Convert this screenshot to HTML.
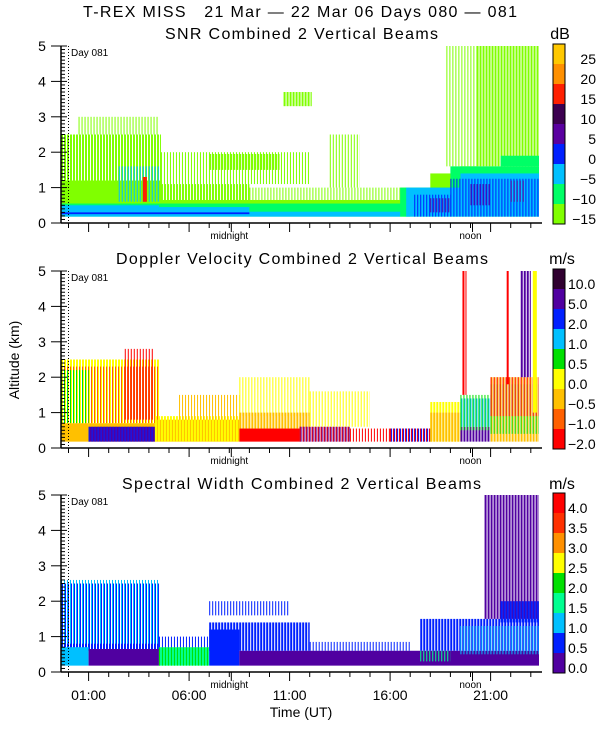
<!DOCTYPE html>
<html><head><meta charset="utf-8">
<style>
html,body{margin:0;padding:0;background:#fff;}
svg{display:block;font-family:"Liberation Sans",sans-serif;}
</style></head>
<body>
<svg id="chart" width="600" height="750" viewBox="0 0 600 750" xmlns="http://www.w3.org/2000/svg">
<text x="83" y="17" font-size="16" textLength="434" lengthAdjust="spacing" xml:space="preserve">T-REX MISS   21 Mar — 22 Mar 06 Days 080 — 081</text>
<text x="165" y="39" font-size="16" textLength="273" lengthAdjust="spacing">SNR Combined 2 Vertical Beams</text>
<text x="560" y="39" font-size="16" text-anchor="middle">dB</text>
<text x="116" y="264" font-size="16" textLength="372" lengthAdjust="spacing">Doppler Velocity Combined 2 Vertical Beams</text>
<text x="562" y="264" font-size="16" text-anchor="middle">m/s</text>
<text x="122" y="489" font-size="16" textLength="359" lengthAdjust="spacing">Spectral Width Combined 2 Vertical Beams</text>
<text x="562" y="489" font-size="16" text-anchor="middle">m/s</text>
<text transform="translate(19,360) rotate(-90)" font-size="14" text-anchor="middle">Altitude (km)</text>
<text x="301" y="717" font-size="14" text-anchor="middle">Time (UT)</text>
<g id="layer"></g>
</svg>
<script>
// ---- data ----
const xTickLabels = ["01:00","06:00","11:00","16:00","21:00"];
const xTickHours = [1,6,11,16,21];
const yTickLabels = ["0","1","2","3","4","5"];
const snrLabels = [-15,-10,-5,0,5,10,15,20,25];
const velLabels = [-2.0,-1.0,-0.5,0.0,0.5,1.0,2.0,5.0,10.0];
const widLabels = [0.0,0.5,1.0,1.5,2.0,2.5,3.0,3.5,4.0];
// segments: [tStartHour, tEndHour, zBottomKm, zTopKm, value, sparse(0 dense,1 2/3,2 1/3)]
const snrSegments = [
 [-0.4,4.6,0.6,1.2,-15,0],[-0.4,4.6,1.2,2.5,-15,1],[0.5,4.5,2.5,3.0,-15,2],
 [4.6,9,0.6,1.1,-15,1],[4.6,12,1.1,2.0,-15,2],[9,16.5,0.6,1.0,-15,2],
 [7,10.5,1.5,1.95,-15,1],[10.7,12.1,3.3,3.7,-15,1],[13,14.5,1.0,2.5,-15,2],
 [16.5,18,0.5,1.0,-15,0],[18,19.5,0.5,1.4,-15,0],[19.5,20.3,0.5,1.6,-15,0],
 [20.3,23.5,1.6,5.0,-15,1],[18.8,20.3,1.6,5.0,-15,2],[-0.4,17,0.45,0.65,-15,0],
 [-0.4,17,0.18,0.55,-10,0],[16.5,19,0.18,1.0,-10,0],[19,23.5,0.18,1.6,-10,0],[21.5,23.5,1.6,1.9,-10,0],
 [-0.4,4.5,0.18,0.5,-5,0],[4.5,9,0.18,0.45,-5,0],[9,16.5,0.18,0.32,-5,0],
 [16.8,19.5,0.18,1.0,-5,0],[19.5,23.5,0.18,1.4,-5,0],[2.5,4.5,0.6,1.6,-5,2],
 [-0.4,9,0.25,0.3,0,0],[17.2,19,0.18,0.8,0,2],[19,23.5,0.18,1.25,0,2],
 [18,19,0.3,0.7,5,2],[20,21,0.5,1.1,5,2],[22,22.7,0.6,1.2,5,2],
 [3.7,3.9,0.6,1.3,15,0]
];
const velSegments = [
 [-0.4,4.5,0.7,2.5,0.0,1],[-0.4,4.5,0.7,2.3,-1.0,2],[-0.4,1,0.7,2.2,0.5,2],[2.8,4.2,0.8,2.8,-2.0,2],
 [-0.4,1,0.18,0.7,-0.5,0],[1,4.3,0.18,0.7,-0.5,0],[1,4.3,0.18,0.6,5.0,0],[1,4.3,0.18,0.6,2.0,2],
 [4.3,8.5,0.18,0.8,-0.5,0],[4.3,8.5,0.18,0.9,0.0,1],[5.5,8.5,0.8,1.5,-0.5,2],
 [8.5,11.5,0.18,0.55,-2.0,0],[8.5,12,0.9,2.0,0.0,2],[8.5,12,0.55,1.0,-0.5,1],
 [11.5,14,0.18,0.6,5.0,1],[11.5,14,0.18,0.6,-2.0,2],[12,15,0.6,1.6,0.0,2],
 [14,16,0.18,0.55,-2.0,2],[16,18,0.18,0.55,2.0,1],[16,18,0.18,0.55,-2.0,2],
 [18,19.5,0.18,1.3,0.0,1],[18,19.5,0.18,1.0,-0.5,1],
 [19.5,21,0.18,0.6,5.0,1],[19.5,21,0.6,1.4,1.0,1],[19.5,21,0.5,1.5,0.5,2],
 [21,23.5,0.18,2.0,-0.5,1],[21,23.5,0.4,1.8,0.5,2],[21,23.5,0.9,2.0,-2.0,2],
 [19.6,19.8,1.5,5.0,-2.0,1],[22.5,23,2.0,5.0,5.0,1],[23.1,23.3,1.0,5.0,0.0,0],[21.8,21.9,1.8,5.0,-2.0,1]
];
const widSegments = [
 [-0.4,4.5,0.6,2.5,0.5,1],[-0.4,4.5,0.8,2.6,1.0,2],[-0.4,1,0.18,0.7,1.0,0],
 [1,4.5,0.18,0.65,0.0,0],[4.5,7,0.18,0.7,1.5,0],[4.5,7,0.18,0.7,2.0,2],[4.5,7,0.7,1.0,0.5,2],[7,8.5,0.18,1.2,0.5,0],
 [8.5,23.5,0.18,0.6,0.0,0],[7,12,0.6,1.4,0.5,1],[7,11,1.6,2.0,0.5,2],[12,17,0.6,0.85,0.5,2],
 [17.5,23.5,0.6,1.5,0.5,1],[19.5,23.5,0.5,1.3,1.0,2],[17.5,19,0.3,0.6,1.5,2],
 [20.7,23.5,1.5,5.0,0.0,1],[21.5,23.5,1.4,2.0,0.5,1]
];
// ---- layout ----
const NS="http://www.w3.org/2000/svg";
const layer=document.getElementById('layer');
const X0=61,X1=542,KM=35.4;
function xScale(h){return 68.5+h*20.1;}
function mk(tag,attrs,parent){const e=document.createElementNS(NS,tag);for(const k in attrs)e.setAttribute(k,attrs[k]);(parent||layer).appendChild(e);return e;}
const panels=[
 {name:'snr',axis:223,segs:snrSegments,labels:snrLabels,colors:["#80ff00","#00ff66","#00c0ff","#0020ff","#5a00a0","#3c0050","#ff2000","#ff9000","#ffc800"],fmt:v=>String(v)},
 {name:'doppler',axis:448,segs:velSegments,labels:velLabels,colors:["#ff0000","#ff6000","#ffc000","#ffff00","#00e000","#00c0ff","#0020ff","#5000a0","#300030"],fmt:v=>v.toFixed(1)},
 {name:'width',axis:672,segs:widSegments,labels:widLabels,colors:["#5000a0","#0020ff","#00c0ff","#00ff90","#00e000","#ffff00","#ff9000","#ff3000","#ff0000"],fmt:v=>v.toFixed(1)}
];
panels.forEach((p,pi)=>{
 const yS=z=>p.axis-z*KM;
 const colorOf=v=>{let i=0;p.labels.forEach((l,j)=>{if(v>=l-1e-9)i=j;});return p.colors[i];};
 const g=mk('g',{});
 
 
 const dg=mk('g',{},g);
 
 
 p.segs.forEach(s=>{
  const x0=Math.max(X0,xScale(s[0])),x1=Math.min(X1-3,xScale(s[1]));
  const y0=yS(s[3]),y1=yS(s[2]),col=colorOf(s[4]);
  if(s[5]===0){
   const r=mk('rect',{x:x0,y:y0,width:x1-x0,height:y1-y0,fill:col},dg);
   
   
  } else {
   const step=3,w=s[5]===1?2:1;
   for(let x=x0;x<x1;x+=step){
    const r=mk('rect',{x:x,y:y0,width:Math.min(w,x1-x),height:y1-y0,fill:col},dg);
    
    
   }
  }
 });
 mk('line',{x1:X0,y1:p.axis-177,x2:X0,y2:p.axis,stroke:'#000','stroke-width':1.5},g);
 mk('line',{x1:X0,y1:p.axis,x2:X1,y2:p.axis,stroke:'#000','stroke-width':1.5},g);
 for(let k=0;k<=50;k++){
  const y=p.axis-k*KM/10;
  if(k%10===0) mk('line',{x1:51,y1:y,x2:67,y2:y,stroke:'#000','stroke-width':1},g);
  else mk('line',{x1:X0,y1:y,x2:65,y2:y,stroke:'#000','stroke-width':1},g);
 }
 yTickLabels.forEach((t,i)=>{
  const tx=mk('text',{x:42,y:yS(i)+5,'font-size':14,'text-anchor':'middle'},g);
  tx.textContent=t;
  
  
 });
 for(let h=0;h<=23;h++){
  const x=xScale(h);const major=xTickHours.includes(h);
  mk('line',{x1:x,y1:p.axis,x2:x,y2:p.axis+(major?9:5),stroke:'#000','stroke-width':1},g);
 }
 [8,20].forEach(h=>{const x=xScale(h);mk('line',{x1:x+2,y1:p.axis,x2:x+2,y2:p.axis+9,stroke:'#000','stroke-width':1},g);});
 const mid=mk('text',{x:xScale(8),y:p.axis+16,'font-size':10,'text-anchor':'middle'},g);mid.textContent='midnight';
 
 const noon=mk('text',{x:xScale(20),y:p.axis+16,'font-size':10,'text-anchor':'middle'},g);noon.textContent='noon';
 
 mk('line',{x1:xScale(0),y1:p.axis-177,x2:xScale(0),y2:p.axis,stroke:'#000','stroke-width':1,'stroke-dasharray':'1,2'},g);
 const day=mk('text',{x:71,y:p.axis-167,'font-size':10},g);day.textContent='Day 081';
 
 const cb=mk('g',{},g);
 
 
 const cbBottom=p.axis+1;
 p.labels.forEach((l,i)=>{
  mk('rect',{x:553,y:cbBottom-(i+1)*20,width:12,height:20,fill:p.colors[i]},cb);
  const tx=mk('text',{x:pi===0?596:568,y:cbBottom-i*20,'font-size':14,'text-anchor':pi===0?'end':'start'},cb);
  tx.textContent=p.fmt(l).replace('-','−');
  
  
 });
 mk('rect',{x:553,y:cbBottom-180,width:12,height:180,fill:'none',stroke:'#000','stroke-width':1},cb);
});
xTickLabels.forEach((t,i)=>{
 const tx=mk('text',{x:xScale(xTickHours[i]),y:700,'font-size':14,'text-anchor':'middle'});
 tx.textContent=t;
 
 
});
</script>
</body></html>
